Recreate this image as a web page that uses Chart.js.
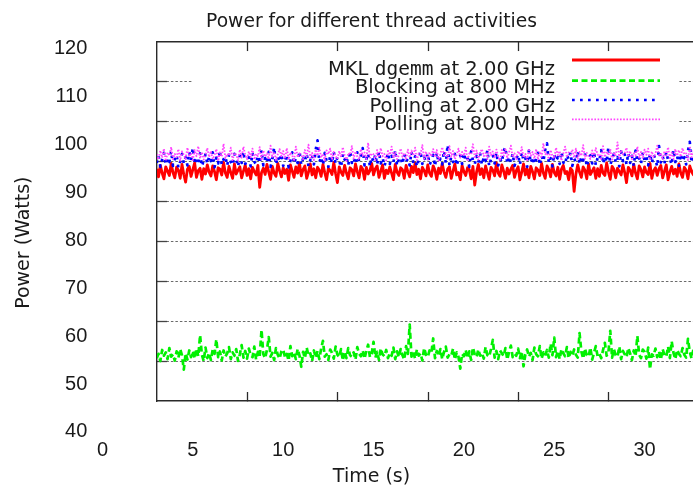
<!DOCTYPE html>
<html>
<head>
  <meta charset="UTF-8">
  <title>Power for different thread activities</title>
  <script src="https://cdn.jsdelivr.net/npm/chart.js"></script>
  <style>
    html, body { margin: 0; padding: 0; overflow: hidden; background: #fff; }
    #wrap { position: relative; width: 743px; height: 490px; }
    #key { position: absolute; left: 0; top: 0; pointer-events: none; }
  </style>
</head>
<body>
  <div id="wrap">
    <canvas id="plot" width="743" height="490"></canvas>
    <svg id="key" width="743" height="490" font-family="DejaVu Sans" font-size="19.5" fill="#1a1a1a"></svg>
  </div>

  <script>
    // sample times (s)
    const time = [
      3.0, 3.1, 3.2, 3.3, 3.4, 3.5, 3.6, 3.7, 3.8, 3.9,
      4.0, 4.1, 4.2, 4.3, 4.4, 4.5, 4.6, 4.7, 4.8, 4.9,
      5.0, 5.1, 5.2, 5.3, 5.4, 5.5, 5.6, 5.7, 5.8, 5.9,
      6.0, 6.1, 6.2, 6.3, 6.4, 6.5, 6.6, 6.7, 6.8, 6.9,
      7.0, 7.1, 7.2, 7.3, 7.4, 7.5, 7.6, 7.7, 7.8, 7.9,
      8.0, 8.1, 8.2, 8.3, 8.4, 8.5, 8.6, 8.7, 8.8, 8.9,
      9.0, 9.1, 9.2, 9.3, 9.4, 9.5, 9.6, 9.7, 9.8, 9.9,
      10.0, 10.1, 10.2, 10.3, 10.4, 10.5, 10.6, 10.7, 10.8, 10.9,
      11.0, 11.1, 11.2, 11.3, 11.4, 11.5, 11.6, 11.7, 11.8, 11.9,
      12.0, 12.1, 12.2, 12.3, 12.4, 12.5, 12.6, 12.7, 12.8, 12.9,
      13.0, 13.1, 13.2, 13.3, 13.4, 13.5, 13.6, 13.7, 13.8, 13.9,
      14.0, 14.1, 14.2, 14.3, 14.4, 14.5, 14.6, 14.7, 14.8, 14.9,
      15.0, 15.1, 15.2, 15.3, 15.4, 15.5, 15.6, 15.7, 15.8, 15.9,
      16.0, 16.1, 16.2, 16.3, 16.4, 16.5, 16.6, 16.7, 16.8, 16.9,
      17.0, 17.1, 17.2, 17.3, 17.4, 17.5, 17.6, 17.7, 17.8, 17.9,
      18.0, 18.1, 18.2, 18.3, 18.4, 18.5, 18.6, 18.7, 18.8, 18.9,
      19.0, 19.1, 19.2, 19.3, 19.4, 19.5, 19.6, 19.7, 19.8, 19.9,
      20.0, 20.1, 20.2, 20.3, 20.4, 20.5, 20.6, 20.7, 20.8, 20.9,
      21.0, 21.1, 21.2, 21.3, 21.4, 21.5, 21.6, 21.7, 21.8, 21.9,
      22.0, 22.1, 22.2, 22.3, 22.4, 22.5, 22.6, 22.7, 22.8, 22.9,
      23.0, 23.1, 23.2, 23.3, 23.4, 23.5, 23.6, 23.7, 23.8, 23.9,
      24.0, 24.1, 24.2, 24.3, 24.4, 24.5, 24.6, 24.7, 24.8, 24.9,
      25.0, 25.1, 25.2, 25.3, 25.4, 25.5, 25.6, 25.7, 25.8, 25.9,
      26.0, 26.1, 26.2, 26.3, 26.4, 26.5, 26.6, 26.7, 26.8, 26.9,
      27.0, 27.1, 27.2, 27.3, 27.4, 27.5, 27.6, 27.7, 27.8, 27.9,
      28.0, 28.1, 28.2, 28.3, 28.4, 28.5, 28.6, 28.7, 28.8, 28.9,
      29.0, 29.1, 29.2, 29.3, 29.4, 29.5, 29.6, 29.7, 29.8, 29.9,
      30.0, 30.1, 30.2, 30.3, 30.4, 30.5, 30.6, 30.7, 30.8, 30.9,
      31.0, 31.1, 31.2, 31.3, 31.4, 31.5, 31.6, 31.7, 31.8, 31.9,
      32.0, 32.1, 32.2, 32.3, 32.4, 32.5, 32.6, 32.7, 32.8, 32.9,
      33.0
    ];

    // power (Watts), one row per second
    const mklDgemm2GHz = [
      94.9, 93.2, 95.6, 94.0, 92.8, 95.3, 94.4, 93.5, 96.0, 94.1,
      93.0, 95.2, 94.6, 92.9, 95.8, 93.7, 92.1, 94.8, 95.4, 93.3,
      94.7, 96.1, 93.1, 94.5, 95.0, 92.7, 94.9, 93.8, 95.7, 94.2,
      93.4, 95.5, 94.3, 92.6, 95.1, 94.8, 93.6, 96.2, 94.0, 93.1,
      95.4, 94.1, 92.9, 95.9, 93.8, 94.6, 95.3, 93.0, 94.4, 95.7,
      93.5, 94.9, 92.8, 95.2, 94.3, 93.6, 95.6, 91.0, 94.1, 95.0,
      93.7, 95.8, 94.2, 92.7, 95.4, 94.0, 93.3, 96.0, 94.5, 93.2,
      95.1, 93.9, 94.8, 92.5, 95.7, 94.4, 93.1, 95.3, 94.0, 96.1,
      93.4, 94.7, 95.5, 92.9, 94.2, 95.9, 93.6, 94.9, 93.0, 95.2,
      94.6, 93.3, 95.8, 94.1, 92.6, 95.0, 94.5, 93.7, 96.2, 93.9,
      92.0, 95.3, 94.2, 93.5, 95.6, 94.0, 92.8, 95.1, 94.7, 93.4,
      95.9, 94.3, 93.0, 95.4, 94.8, 92.7, 95.2, 93.8, 94.5, 96.0,
      93.6, 94.9, 95.5, 93.1, 94.4, 95.7, 92.9, 94.6, 93.9, 95.3,
      94.0, 92.6, 95.8, 94.2, 93.5, 95.1, 94.7, 92.9, 95.6, 94.3,
      93.2, 95.4, 94.1, 96.1, 93.7, 94.8, 92.8, 95.2, 94.5, 93.4,
      95.7, 94.0, 93.3, 95.5, 94.6, 92.7, 95.0, 93.9, 96.0, 94.2,
      93.1, 94.8, 95.3, 92.9, 94.4, 95.9, 93.6, 94.1, 92.6, 95.6,
      94.3, 93.5, 95.1, 94.7, 92.8, 95.4, 91.5, 94.2, 95.8, 93.7,
      94.9, 93.0, 95.5, 94.1, 92.7, 95.2, 94.6, 93.4, 96.1, 94.0,
      93.3, 95.7, 94.4, 92.9, 95.0, 93.8, 94.8, 95.6, 93.1, 94.5,
      95.3, 92.6, 94.2, 95.9, 93.6, 94.9, 93.0, 95.4, 94.3, 92.8,
      95.1, 94.6, 93.5, 96.0, 94.0, 92.9, 95.5, 94.7, 93.2, 95.8,
      94.1, 93.4, 95.2, 92.7, 94.8, 95.6, 93.9, 94.3, 92.6, 95.0,
      94.5, 90.2, 93.8, 95.7, 94.2, 93.1, 95.3, 94.6, 92.8, 95.9,
      93.7, 94.4, 95.1, 92.9, 94.9, 93.3, 95.6, 94.0, 93.5, 96.1,
      94.2, 92.7, 95.4, 94.8, 93.0, 95.0, 94.3, 93.6, 95.7, 94.1,
      92.0, 95.2, 94.6, 93.4, 95.8, 94.0, 92.8, 95.5, 94.7, 93.2,
      95.3, 94.1, 93.7, 96.0, 92.9, 94.5, 95.1, 93.5, 94.9, 95.6,
      93.0, 94.4, 95.7, 92.6, 94.2, 95.4, 93.8, 94.8, 93.3, 95.9,
      94.0, 93.1, 95.2, 94.6, 92.8, 95.5, 94.3, 93.6, 96.0, 94.2,
      93.9
    ];
    const blocking800MHz = [
      55.4, 56.3, 54.8, 57.1, 55.9, 56.6, 55.2, 57.5, 55.7, 56.2,
      54.9, 56.8, 55.5, 57.3, 56.0, 53.0, 56.4, 55.1, 57.0, 55.6,
      56.9, 55.3, 57.4, 55.8, 60.2, 56.1, 54.8, 57.6, 55.4, 56.5,
      55.0, 57.2, 56.3, 59.3, 55.6, 56.8, 54.9, 57.0, 55.7, 56.4,
      57.7, 55.2, 56.6, 55.9, 57.3, 54.8, 56.2, 58.1, 55.5, 56.9,
      55.3, 57.4, 56.0, 55.6, 57.8, 55.1, 56.7, 55.8, 61.3, 56.2,
      55.4, 57.1, 59.8, 55.7, 56.5, 55.0, 57.5, 56.1, 55.3, 56.8,
      57.2, 55.6, 56.3, 54.9, 57.9, 55.8, 56.6, 55.2, 57.3, 56.0,
      53.6, 56.7, 55.4, 57.6, 55.9, 56.4, 54.8, 57.0, 55.5, 56.9,
      55.2, 57.4, 59.0, 55.7, 56.2, 55.0, 57.2, 56.5, 55.3, 57.8,
      56.1, 55.6, 57.3, 54.9, 56.8, 55.4, 57.5, 56.0, 55.7, 56.6,
      55.1, 57.7, 56.3, 55.8, 57.0, 55.3, 56.9, 58.2, 55.6, 56.4,
      58.8, 55.5, 56.7, 55.0, 57.4, 56.2, 55.8, 57.1, 55.4, 56.5,
      55.9, 57.6, 55.2, 56.8, 55.6, 57.3, 56.0, 55.1, 57.9, 56.3,
      62.4, 55.7, 56.6, 55.3, 57.2, 55.9, 56.4, 54.9, 57.5, 56.1,
      55.6, 57.0, 56.5, 59.5, 55.4, 56.9, 55.8, 57.3, 55.2, 56.7,
      57.8, 55.5, 56.2, 55.9, 57.4, 55.1, 56.6, 55.7, 53.2, 56.3,
      55.8, 57.1, 55.4, 56.8, 55.0, 57.6, 56.2, 55.6, 57.2, 55.9,
      56.5, 55.3, 57.7, 56.0, 55.7, 57.3, 59.2, 55.5, 56.9, 55.2,
      57.0, 56.4, 55.8, 57.5, 55.1, 56.7, 58.0, 55.6, 56.3, 55.9,
      57.4, 55.4, 56.8, 53.7, 56.1, 57.2, 55.7, 56.5, 55.0, 57.6,
      56.2, 55.8, 57.9, 55.3, 56.6, 55.9, 57.1, 55.5, 58.4, 56.0,
      59.7, 55.6, 56.9, 55.2, 57.3, 56.4, 55.8, 57.7, 55.4, 56.7,
      55.9, 57.2, 56.1, 55.5, 60.6, 56.8, 55.3, 57.4, 56.0, 55.7,
      57.6, 55.1, 56.5, 57.9, 55.8, 56.3, 55.4, 57.1, 58.6, 55.9,
      56.6, 61.1, 55.5, 57.3, 56.0, 55.7, 57.8, 55.2, 56.9, 56.2,
      55.6, 57.5, 56.4, 55.0, 57.0, 55.8, 60.0, 56.1, 55.4, 57.2,
      56.7, 55.3, 57.6, 53.1, 56.2, 55.9, 57.4, 55.6, 56.8, 55.1,
      57.3, 56.0, 55.7, 57.8, 55.4, 58.9, 56.5, 55.2, 57.1, 56.3,
      55.8, 57.5, 56.1, 55.5, 59.4, 56.7, 55.3, 57.2, 56.0, 55.9,
      56.4
    ];
    const polling2GHz = [
      96.1, 97.6, 95.3, 96.8, 98.2, 95.7, 97.1, 96.3, 98.6, 95.5,
      96.9, 97.8, 95.1, 96.4, 98.0, 96.0, 97.3, 95.6, 98.4, 96.7,
      99.3, 95.8, 97.0, 96.2, 98.1, 95.4, 96.6, 97.9, 95.9, 97.4,
      96.5, 98.3, 95.2, 97.2, 96.0, 98.7, 95.7, 96.9, 97.5, 95.5,
      97.8, 96.3, 95.6, 98.0, 96.8, 95.3, 97.6, 96.1, 98.5, 95.9,
      96.7, 97.3, 95.4, 98.2, 96.4, 95.8, 97.7, 96.0, 98.8, 95.6,
      97.1, 96.2, 98.4, 95.3, 96.9, 99.4, 95.7, 97.5, 96.3, 98.0,
      95.5, 96.8, 97.9, 95.2, 96.6, 98.3, 95.9, 97.2, 96.1, 98.6,
      95.7, 97.0, 96.4, 98.1, 95.4, 96.7, 97.8, 95.8, 98.9, 100.8,
      96.2, 97.4, 95.6, 98.2, 96.5, 95.3, 97.6, 96.0, 98.4, 95.9,
      97.3, 96.6, 95.2, 98.0, 96.8, 97.5, 95.5, 98.6, 96.1, 97.1,
      95.8, 98.3, 96.4, 97.7, 99.2, 95.6, 96.9, 98.1, 95.3, 97.4,
      96.3, 97.9, 95.7, 98.5, 96.0, 97.2, 95.4, 96.7, 98.2, 95.9,
      97.6, 96.2, 98.8, 95.5, 96.9, 97.3, 95.8, 98.0, 96.4, 97.0,
      95.6, 98.4, 96.1, 97.5, 95.3, 96.8, 98.6, 95.9, 97.2, 96.5,
      98.1, 95.7, 96.6, 97.8, 95.4, 98.3, 96.2, 97.0, 95.8, 98.7,
      96.0, 99.9, 95.6, 97.4, 96.3, 98.0, 95.5, 96.9, 97.7, 95.9,
      98.2, 96.4, 97.1, 95.3, 98.5, 96.7, 95.8, 97.6, 96.1, 98.0,
      95.7, 97.3, 96.5, 98.8, 95.4, 96.9, 97.8, 96.0, 98.3, 95.6,
      97.0, 96.2, 98.6, 99.4, 95.9, 97.5, 96.3, 98.1, 95.5, 96.8,
      97.9, 95.7, 98.4, 96.6, 97.2, 95.3, 98.7, 96.1, 97.4, 95.8,
      96.9, 98.2, 95.6, 97.6, 96.4, 98.9, 100.2, 96.0, 97.1, 95.4,
      98.0, 96.5, 97.3, 95.9, 98.5, 96.2, 95.7, 97.8, 96.8, 98.3,
      95.5, 97.0, 96.3, 98.6, 95.8, 97.4, 96.6, 98.1, 95.3, 96.9,
      97.7, 96.0, 98.4, 95.6, 97.2, 96.7, 98.8, 95.9, 97.5, 96.2,
      99.5, 95.7, 96.8, 98.0, 96.3, 97.3, 95.4, 98.5, 96.5, 97.9,
      95.8, 98.2, 96.1, 97.6, 95.5, 98.7, 96.4, 97.1, 95.9, 98.3,
      96.6, 97.4, 95.6, 98.1, 96.0, 97.8, 96.9, 95.3, 99.6, 96.2,
      97.5, 95.9, 98.4, 96.7, 97.0, 95.7, 98.9, 96.3, 97.6, 95.5,
      98.0, 96.4, 97.3, 95.8, 98.6, 100.5, 96.1, 97.7, 99.0, 96.5,
      97.2
    ];
    const polling800MHz = [
      97.9, 96.8, 98.7, 97.2, 99.1, 96.5, 98.3, 97.6, 99.4, 96.9,
      98.0, 97.3, 99.0, 96.6, 98.5, 97.8, 96.9, 99.3, 97.4, 98.2,
      96.7, 98.8, 97.5, 99.6, 97.0, 98.4, 96.8, 97.9, 99.2, 97.3,
      98.6, 96.9, 97.7, 99.0, 96.5, 98.3, 97.4, 100.1, 97.1, 98.0,
      97.6, 99.3, 96.7, 98.2, 97.9, 96.6, 98.9, 97.2, 99.5, 97.8,
      96.9, 98.5, 97.3, 99.1, 96.8, 98.0, 97.5, 99.4, 96.6, 98.7,
      97.4, 98.1, 96.9, 99.7, 97.2, 98.4, 96.7, 97.9, 99.0, 97.5,
      98.6, 97.0, 99.2, 96.8, 98.3, 97.7, 96.5, 99.5, 97.3, 98.1,
      97.8, 96.9, 98.8, 97.4, 99.9, 97.1, 98.2, 96.7, 98.9, 97.6,
      99.3, 97.2, 98.0, 96.6, 98.7, 97.9, 99.1, 96.8, 98.4, 97.5,
      96.9, 98.6, 97.3, 99.4, 97.7, 96.5, 98.2, 97.8, 99.6, 97.0,
      98.5, 97.4, 96.8, 99.0, 97.6, 98.3, 96.9, 100.3, 97.2, 98.1,
      97.9, 96.7, 98.8, 97.3, 99.2, 97.5, 98.0, 96.6, 98.6, 97.8,
      99.5, 97.1, 98.4, 96.9, 97.7, 99.1, 97.4, 98.2, 96.8, 98.9,
      97.2, 98.7, 97.6, 99.3, 96.7, 98.1, 97.9, 99.8, 97.0, 98.5,
      96.8, 98.3, 97.5, 99.0, 97.3, 98.8, 96.6, 98.0, 99.4, 97.7,
      98.2, 97.0, 99.6, 97.4, 98.6, 96.9, 97.8, 99.1, 97.2, 98.4,
      97.6, 99.3, 96.7, 98.1, 97.9, 100.0, 97.3, 98.7, 96.8, 98.3,
      99.0, 97.5, 98.2, 96.9, 99.5, 97.7, 98.5, 97.1, 98.9, 97.4,
      96.6, 98.8, 97.6, 99.2, 97.0, 98.3, 99.7, 97.3, 98.1, 96.9,
      98.6, 97.8, 99.4, 97.2, 98.0, 96.7, 99.1, 97.6, 98.4, 97.0,
      99.0, 96.8, 98.5, 97.4, 100.2, 97.9, 98.2, 96.9, 98.8, 97.5,
      97.1, 99.3, 97.7, 98.6, 96.6, 98.1, 99.5, 97.3, 98.3, 97.8,
      98.9, 97.2, 99.1, 96.8, 98.4, 97.6, 99.8, 97.0, 98.2, 97.5,
      96.9, 98.7, 97.4, 99.2, 97.8, 98.0, 96.7, 99.6, 97.3, 98.5,
      97.7, 99.0, 96.8, 98.3, 97.5, 100.4, 97.1, 98.8, 97.9, 98.2,
      99.3, 97.4, 98.6, 96.9, 98.1, 97.6, 99.5, 97.2, 98.4, 97.0,
      98.9, 97.8, 99.1, 96.7, 98.5, 97.3, 98.0, 99.7, 97.5, 98.2,
      96.8, 98.6, 97.7, 99.4, 97.1, 98.3, 96.9, 99.0, 97.6, 98.8,
      97.4, 99.2, 97.9, 98.1, 96.7, 99.6, 97.3, 98.5, 100.1, 97.8,
      98.3
    ];

    const seriesNames = ['MKL dgemm at 2.00 GHz', 'Blocking at 800 MHz', 'Polling at 2.00 GHz', 'Polling at 800 MHz'];
    const seriesValues = [mklDgemm2GHz, blocking800MHz, polling2GHz, polling800MHz];

    const chartTitle = 'Power for different thread activities';
    const xTitle = 'Time (s)';
    const yTitle = 'Power (Watts)';
    const xTickLabels = [0, 5, 10, 15, 20, 25, 30];
    const yTickLabels = [40, 50, 60, 70, 80, 90, 100, 110, 120];
    // the frame carries its own tick marks and grid, offset from the printed labels
    const frameXTicks = [5, 10, 15, 20, 25, 30];
    const frameGrid = [50, 60, 70, 80, 90, 100, 110, 120];

    const lineStyles = [
      { color: '#ff0000', width: 2.8, dash: [] },
      { color: '#00f000', width: 2.7, dash: [6, 3.5] },
      { color: '#0000ff', width: 2.7, dash: [2.7, 5.3] },
      { color: '#ff44ff', width: 1.8, dash: [1.6, 1.6] }
    ];

    const useTicks = list => s => { s.ticks = list.map(v => ({ value: v })); };
    // fixed box sizes, and no automatic padding for out-of-range labels
    const fixWidth = w => s => { s.width = w; s.paddingTop = 0; s.paddingBottom = 0; s.paddingLeft = 0; s.paddingRight = 0; };
    const fixHeight = h => s => { s.height = h; s.paddingTop = 0; s.paddingBottom = 0; s.paddingLeft = 0; s.paddingRight = 0; };
    const textFont = { family: 'DejaVu Sans', size: 19, weight: 'normal', lineHeight: 1.2 };
    const frameColor = '#2a2a2a';

    Chart.defaults.font.family = 'Liberation Sans';
    Chart.defaults.font.size = 20;
    Chart.defaults.color = '#1a1a1a';

    new Chart(document.getElementById('plot'), {
      type: 'line',
      data: {
        datasets: seriesValues.map((vals, i) => ({
          label: seriesNames[i],
          data: time.map((t, j) => ({ x: t, y: vals[j] })),
          xAxisID: 'xl',
          yAxisID: 'yl',
          // plotted in key order, later series on top
          order: seriesValues.length - i,
          borderColor: lineStyles[i].color,
          borderWidth: lineStyles[i].width,
          borderDash: lineStyles[i].dash,
          borderJoinStyle: 'round',
          pointRadius: 0,
          tension: 0
        }))
      },
      options: {
        responsive: false,
        animation: false,
        events: [],
        layout: { padding: 0, autoPadding: false },
        plugins: {
          legend: { display: false },
          tooltip: { enabled: false },
          title: {
            display: true, text: chartTitle, color: '#1a1a1a',
            font: { family: 'DejaVu Sans', size: 18.7, weight: 'normal', lineHeight: 1.2 },
            padding: { top: 11.3, bottom: 8.3 }
          },
          subtitle: {
            display: true, position: 'bottom', text: xTitle, color: '#1a1a1a',
            font: textFont,
            padding: { top: 0, bottom: 1.6 }
          }
        },
        scales: {
          xl: {
            type: 'linear', axis: 'x', position: 'bottom', weight: 1,
            min: 3.016, max: 35.446,
            afterBuildTicks: useTicks(xTickLabels),
            afterFit: fixHeight(64.6),
            grid: { display: false, drawTicks: false },
            border: { display: false },
            ticks: { autoSkip: false, maxRotation: 0, minRotation: 0, padding: 37 }
          },
          xg: {
            type: 'linear', axis: 'x', position: 'bottom', weight: 0,
            min: 0, max: 32.43,
            afterBuildTicks: useTicks(frameXTicks),
            afterFit: fixHeight(0),
            grid: { drawOnChartArea: false, drawTicks: true, tickLength: -9, tickColor: frameColor, tickWidth: 1.3 },
            border: { display: true, color: frameColor, width: 1.4 },
            ticks: { display: false }
          },
          xt: {
            type: 'linear', axis: 'x', position: 'top', weight: 0,
            min: 0, max: 32.43,
            afterBuildTicks: useTicks(frameXTicks),
            afterFit: fixHeight(0),
            grid: { drawOnChartArea: false, drawTicks: true, tickLength: -9, tickColor: frameColor, tickWidth: 1.3 },
            border: { display: true, color: frameColor, width: 1.4 },
            ticks: { display: false }
          },
          yl: {
            type: 'linear', axis: 'y', position: 'left', weight: 1,
            min: 46.46, max: 121.32,
            afterBuildTicks: useTicks(yTickLabels),
            afterFit: fixWidth(157),
            grid: { display: false, drawTicks: false },
            border: { display: false },
            ticks: { autoSkip: false, padding: 69.7 },
            title: {
              // trailing spaces push the centred text down to where the original sits
              display: true, text: yTitle + '       ', color: '#1a1a1a',
              font: textFont,
              padding: { top: 13, bottom: 0 }
            }
          },
          yg: {
            type: 'linear', axis: 'y', position: 'left', weight: 0,
            min: 40, max: 130,
            afterBuildTicks: useTicks(frameGrid),
            afterFit: fixWidth(0),
            grid: { color: '#6a6a6a', lineWidth: 1, drawTicks: true, tickLength: -10, tickColor: '#444', tickWidth: 1.3 },
            border: { display: true, color: frameColor, width: 1.4, dash: [2.5, 2] },
            ticks: { display: false }
          }
        }
      }
    });

    // gnuplot-style key: opaque box, right-justified text, sample line on the right
    const keyTextY = [75, 93, 111.7, 130];
    const keyLineY = [60, 80.7, 100, 119.3];
    let svg = '<rect x="192" y="52" width="486" height="81" fill="#ffffff"/>';
    seriesNames.forEach((name, i) => {
      const st = lineStyles[i];
      const label = name.replace('dgemm', '<tspan font-family="DejaVu Sans Mono">dgemm</tspan>');
      svg += `<text x="555" y="${keyTextY[i]}" text-anchor="end">${label}</text>`;
      svg += `<line x1="572" x2="660" y1="${keyLineY[i]}" y2="${keyLineY[i]}" stroke="${st.color}" ` +
        `stroke-width="${st.width}" stroke-dasharray="${st.dash.length ? st.dash.join(' ') : 'none'}"/>`;
    });
    document.getElementById('key').innerHTML = svg;
  </script>
</body>
</html>
